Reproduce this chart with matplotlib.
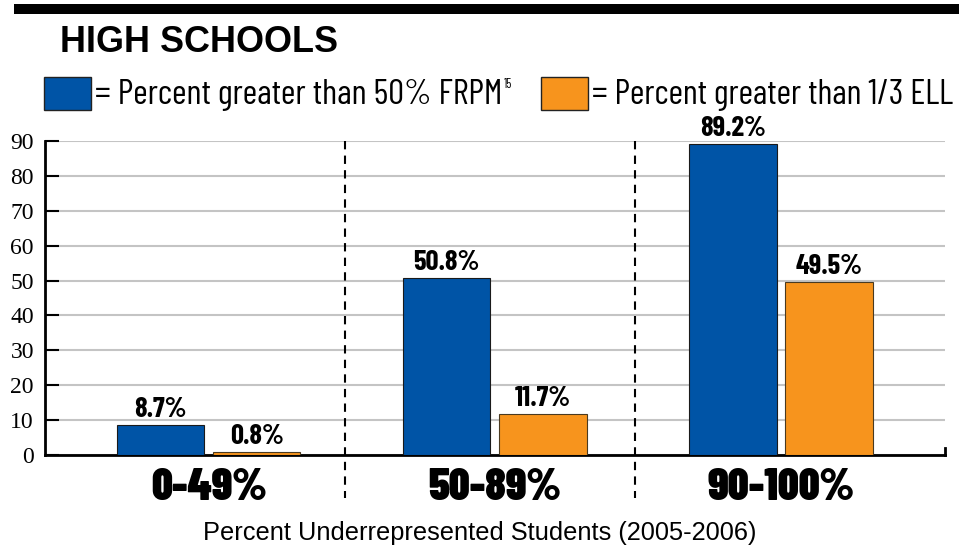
import matplotlib
matplotlib.use("Agg")
import matplotlib.pyplot as plt
import matplotlib.patches as mpatches
import numpy as np

# school groups by share of underrepresented students
categories = ["0-49%", "50-89%", "90-100%"]
frpm_pct = [8.7, 50.8, 89.2]   # percent of schools > 50% FRPM
ell_pct = [0.8, 11.7, 49.5]    # percent of schools > 1/3 ELL
y_ticks = [0, 10, 20, 30, 40, 50, 60, 70, 80, 90]

BLUE = "#0054a6"
ORANGE = "#f7941d"

narrow = "Barlow Condensed"
cond = "Barlow Condensed"
sans = "Liberation Sans"
serif = "Liberation Serif"

W, H = 959, 548
fig = plt.figure(figsize=(W / 100, H / 100), dpi=100)
renderer = fig.canvas.get_renderer()


def fx(px):
    return px / W


def fy(py):
    return 1 - py / H


def fit(t, width_px):
    """Scale a text's font size so it spans the given width in pixels."""
    w = t.get_window_extent(renderer).width
    t.set_fontsize(t.get_fontsize() * width_px / w)
    return t.get_fontsize()


# heavy rule across the top
fig.add_artist(mpatches.Rectangle((fx(14), fy(14)), fx(945), 10 / H,
                                  transform=fig.transFigure, color="black", lw=0))

t = fig.text(fx(60), fy(43), "HIGH SCHOOLS", family=sans, weight="bold",
             fontsize=24, va="center", ha="left")
fit(t, 278)

# legend swatches and labels
for x0, color, label, sup, wpx in [(44, BLUE, "= Percent greater than 50% FRPM", "15", 408),
                                   (541, ORANGE, "= Percent greater than 1/3 ELL", None, 362)]:
    fig.add_artist(mpatches.Rectangle((fx(x0), fy(110)), 47 / W, 33 / H,
                                      transform=fig.transFigure, facecolor=color,
                                      edgecolor="#222222", lw=1))
    t = fig.text(fx(x0 + 51), fy(95), label, family=narrow, fontsize=19,
                 va="center", ha="left")
    fit(t, wpx)
    if sup:
        bb = t.get_window_extent(renderer)
        fig.text(bb.x1 / W + 0.002, fy(84), sup, family=narrow, fontsize=9,
                 va="center", ha="left")

ax = fig.add_axes([fx(45), 93 / H, fx(900), 314 / H])

x = np.arange(len(categories))
off, width = 0.168, 0.305
b1 = ax.bar(x - off, frpm_pct, width, color=BLUE, edgecolor="#1a1a1a", lw=0.8, zorder=3)
b2 = ax.bar(x + off, ell_pct, width, color=ORANGE, edgecolor="#4a3a20", lw=0.8, zorder=3)

# value labels over each bar
probe = ax.text(0, 0, "89.2%", family=cond, weight="bold", fontsize=16)
val_fs = fit(probe, 66)
probe.remove()
for bars, vals in [(b1, frpm_pct), (b2, ell_pct)]:
    for bar, v in zip(bars, vals):
        ax.text(bar.get_x() + bar.get_width() / 2, v + 2.3, f"{v}%",
                ha="center", va="baseline", family=cond, weight="bold", fontsize=val_fs)

ax.set_xlim(-0.572, 2.573)
ax.set_ylim(0, 90)
ax.set_yticks(y_ticks)
ax.set_yticklabels([str(v) for v in y_ticks], family=serif, fontsize=17)
ax.tick_params(axis="y", direction="in", length=10, width=1.5, pad=8)
ax.set_xticks([])
ax.yaxis.grid(True, color="#c4c4c4", lw=1.5, zorder=0)
ax.set_axisbelow(True)

ax.spines["top"].set_visible(False)
ax.spines["left"].set_linewidth(2)
ax.spines["bottom"].set_linewidth(2)
ax.spines["right"].set_linewidth(2)
ax.spines["right"].set_bounds(0, 2)

# dashed dividers between groups, running below the axis
for xd in [0.477, 1.488]:
    ax.plot([xd, xd], [90, -12.3], color="black", lw=1.5, ls=(0, (4, 3)),
            clip_on=False, zorder=4)

# group labels under the axis
probe = ax.text(0, 0, "90-100%", family=cond, weight=900, fontsize=28)
cat_fs = fit(probe, 147)
probe.remove()
for xi, c in zip(x, categories):
    ax.text(xi, -9.4, c, ha="center", va="center", family=cond, weight=900,
            fontsize=cat_fs)

t = fig.text(fx(480), fy(533), "Percent Underrepresented Students (2005-2006)",
             family=sans, fontsize=16, ha="center", va="center")
fit(t, 554)

fig.savefig("out.png", dpi=100)
